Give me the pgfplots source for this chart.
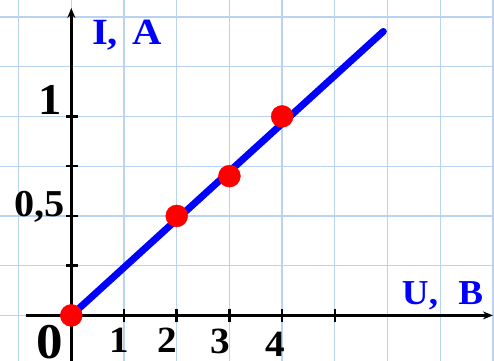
\documentclass[border=0pt]{standalone}
\usepackage{fontspec}
\setmainfont{Liberation Serif}
\usepackage{pgfplots}
\pgfplotsset{compat=1.18}
\usetikzlibrary{arrows.meta}
\definecolor{gridblue}{RGB}{185,212,242}
\newcommand{\wide}[1]{\scalebox{1.06}[1]{#1}}
\begin{document}
\begin{tikzpicture}
\begin{axis}[
 width=494bp, height=361bp, scale only axis,
 xmin=-1.353, xmax=8.02, ymin=-0.229, ymax=1.585,
 axis line style={draw=none},
 xtick={-1,0,...,8}, ytick={0,0.25,...,1.5},
 xticklabels={}, yticklabels={},
 major tick length=0pt,
 grid=major, major grid style={gridblue, line width=1.3bp},
 clip=false,
]
% axes
\draw[line width=2.5bp, -{Stealth[length=10bp,width=8bp]}] (axis cs:-0.859,0) -- (axis cs:8.0,0);
\draw[line width=2.5bp, -{Stealth[length=10bp,width=8bp]}] (axis cs:0,-0.229) -- (axis cs:0,1.545);
% ticks
\pgfplotsinvokeforeach{1,2,3,4,5}{\draw[line width=2.5bp] (axis cs:#1,-0.033) -- (axis cs:#1,0.033);}
\pgfplotsinvokeforeach{0.25,0.5,0.75,1}{\draw[line width=2.5bp] (axis cs:-0.095,#1) -- (axis cs:0.13,#1);}
% data
\addplot[only marks, mark=*, mark size=11bp, mark options={draw=red, fill=red}] coordinates {(0,0) (2,0.5) (3,0.7) (4,1)};
\addplot[blue, line width=7bp, line cap=round] coordinates {(0,0) (5.92,1.427)};
% label anchors
\coordinate (l0) at (axis cs:-0.414,-0.2186);
\coordinate (x1) at (axis cs:0.915,-0.186);
\coordinate (x2) at (axis cs:1.816,-0.188);
\coordinate (x3) at (axis cs:2.82,-0.19);
\coordinate (x4) at (axis cs:3.865,-0.2085);
\coordinate (y1) at (axis cs:-0.176,1.0075);
\coordinate (y05) at (axis cs:-0.12,0.495);
\coordinate (ia) at (axis cs:0.39,1.359);
\coordinate (ub) at (axis cs:6.27,0.053);
\end{axis}
\node[anchor=base, inner sep=0pt, font=\bfseries\fontsize{50bp}{50bp}\selectfont] at (l0) {\wide{0}};
\node[anchor=base, inner sep=0pt, font=\bfseries\fontsize{37bp}{37bp}\selectfont] at (x1) {\wide{1}};
\node[anchor=base, inner sep=0pt, font=\bfseries\fontsize{37bp}{37bp}\selectfont] at (x2) {\wide{2}};
\node[anchor=base, inner sep=0pt, font=\bfseries\fontsize{37bp}{37bp}\selectfont] at (x3) {\wide{3}};
\node[anchor=base, inner sep=0pt, font=\bfseries\fontsize{37bp}{37bp}\selectfont] at (x4) {\wide{4}};
\node[anchor=base east, inner sep=0pt, font=\bfseries\fontsize{44bp}{44bp}\selectfont] at (y1) {\wide{1}};
\node[anchor=base east, inner sep=0pt, font=\bfseries\fontsize{38bp}{38bp}\selectfont] at (y05) {\wide{0,5}};
\node[anchor=base west, inner sep=0pt, text=blue, font=\bfseries\fontsize{37bp}{37bp}\selectfont] at (ia) {\scalebox{1.1}[1]{I, \hspace{0.1em}A}};
\node[anchor=base west, inner sep=0pt, text=blue, font=\bfseries\fontsize{35bp}{35bp}\selectfont] at (ub) {\wide{U, \hspace{0.3em}В}};
\pgfresetboundingbox
\useasboundingbox (current axis.south west) rectangle (current axis.north east);
\end{tikzpicture}
\end{document}
